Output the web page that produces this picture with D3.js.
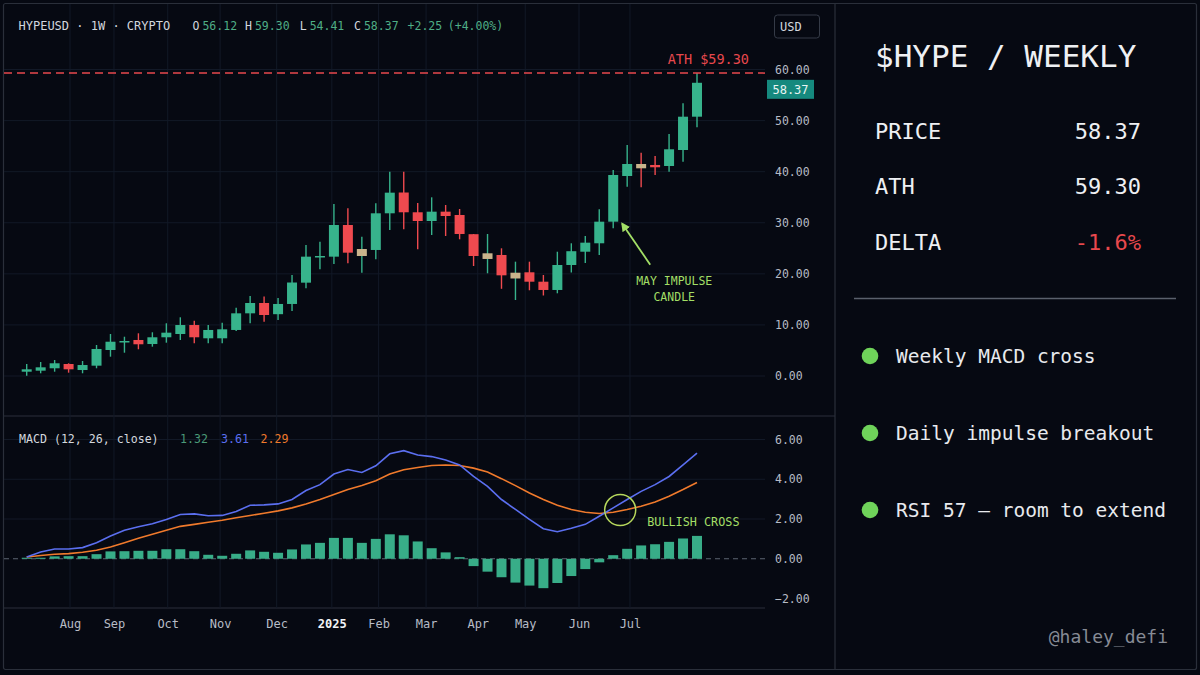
<!DOCTYPE html>
<html>
<head>
<meta charset="utf-8">
<script src="https://cdn.jsdelivr.net/npm/d3@7"></script>
<style>
    html, body { margin: 0; padding: 0; background: #060912; }
    svg { display: block; }
    text { font-family: "DejaVu Sans Mono", "Liberation Mono", monospace; }
</style>
</head>
<body>
<div id="chart"></div>
<script>

// Weekly candles HYPEUSD (one entry per week)
const opens  = [0.84, 1.04, 1.51, 2.35, 1.17, 2.02, 5.09, 6.60, 7.05, 6.26, 7.58, 8.22, 9.98, 7.38, 7.38, 9.01, 12.27, 14.29, 12.10, 14.10, 18.27, 23.24, 23.36, 29.56, 23.49, 24.67, 31.85, 35.92, 32.05, 30.34, 32.17, 31.52, 27.76, 22.91, 23.69, 19.09, 20.30, 18.46, 16.84, 21.73, 24.33, 25.98, 30.21, 39.15, 41.50, 41.31, 41.11, 44.24, 50.76];
const highs  = [2.35, 2.74, 3.13, 2.49, 2.94, 6.07, 8.22, 7.69, 8.36, 8.56, 10.32, 11.49, 10.83, 9.98, 10.43, 13.37, 15.66, 15.56, 15.27, 19.77, 25.65, 26.29, 33.67, 32.83, 27.27, 33.81, 40.00, 40.00, 33.87, 34.98, 33.48, 32.69, 27.80, 27.80, 25.00, 22.38, 22.38, 19.77, 24.33, 25.98, 27.41, 32.64, 40.33, 45.22, 43.72, 43.07, 47.38, 53.39, 59.30];
const lows   = [0.06, 0.53, 0.84, 0.65, 0.53, 1.51, 3.78, 4.56, 5.23, 5.74, 6.52, 7.05, 6.40, 6.40, 6.40, 8.80, 10.32, 10.63, 10.96, 12.73, 17.17, 20.89, 21.93, 22.06, 20.22, 22.85, 28.58, 28.72, 24.80, 27.60, 27.41, 26.76, 21.53, 20.11, 17.07, 14.88, 16.78, 15.76, 16.19, 20.26, 22.12, 23.69, 28.92, 37.06, 36.94, 39.35, 40.00, 41.95, 48.69];
const closes = [1.31, 1.70, 2.49, 1.31, 2.15, 5.29, 6.71, 6.85, 6.21, 7.58, 8.48, 9.98, 7.58, 9.01, 9.14, 12.27, 14.29, 11.94, 14.10, 18.30, 23.36, 23.49, 29.56, 24.14, 24.86, 31.85, 35.89, 32.05, 30.34, 32.17, 31.32, 27.80, 23.49, 24.02, 19.71, 20.22, 18.46, 16.84, 21.73, 24.43, 26.10, 30.21, 39.35, 41.50, 40.66, 40.86, 44.38, 50.76, 57.40];
// weeks drawn in the neutral (sand) colour
const neutralWeeks = [24, 33, 35, 44];

// MACD pane
const macdLine   = [0.09, 0.34, 0.49, 0.49, 0.56, 0.81, 1.14, 1.43, 1.61, 1.76, 1.98, 2.23, 2.26, 2.16, 2.18, 2.38, 2.69, 2.71, 2.76, 2.98, 3.43, 3.73, 4.26, 4.49, 4.34, 4.68, 5.28, 5.44, 5.22, 5.14, 4.97, 4.72, 4.14, 3.64, 2.98, 2.48, 1.98, 1.51, 1.36, 1.53, 1.73, 2.14, 2.56, 2.98, 3.39, 3.73, 4.14, 4.72, 5.31];
const signalLine = [0.09, 0.16, 0.23, 0.26, 0.33, 0.43, 0.59, 0.81, 1.03, 1.23, 1.43, 1.63, 1.73, 1.84, 1.94, 2.06, 2.18, 2.29, 2.41, 2.56, 2.76, 2.98, 3.23, 3.48, 3.68, 3.93, 4.26, 4.48, 4.59, 4.69, 4.72, 4.69, 4.56, 4.36, 4.03, 3.68, 3.31, 2.98, 2.69, 2.48, 2.34, 2.28, 2.34, 2.48, 2.64, 2.86, 3.14, 3.48, 3.84];
const histogram  = [0.05, 0.05, 0.12, 0.13, 0.13, 0.23, 0.37, 0.38, 0.40, 0.40, 0.48, 0.48, 0.38, 0.20, 0.15, 0.25, 0.42, 0.35, 0.30, 0.47, 0.72, 0.80, 1.05, 1.05, 0.80, 1.00, 1.23, 1.18, 0.87, 0.53, 0.32, 0.08, -0.37, -0.65, -0.93, -1.20, -1.35, -1.48, -1.22, -0.87, -0.52, -0.18, 0.18, 0.50, 0.67, 0.73, 0.85, 1.02, 1.15];

// axes
const priceTicks  = [0, 10, 20, 30, 40, 50, 60];
const macdTicks   = [-2, 0, 2, 4, 6];
const monthLabels = ["Aug", "Sep", "Oct", "Nov", "Dec", "2025", "Feb", "Mar", "Apr", "May", "Jun", "Jul"];
const monthAt     = [3.1, 6.25, 10.1, 13.85, 17.9, 21.85, 25.2, 28.6, 32.3, 35.7, 39.55, 43.2]; // in weeks

// annotations
const athValue   = 59.30;
const lastPrice  = 58.37;
const impulseWeek = 42;
const crossWeek = 42.5, crossValue = 2.45;

const headerStats = [
    {label: "O", value: "56.12"}, {label: "H", value: "59.30"},
    {label: "L", value: "54.41"}, {label: "C", value: "58.37"}
];
const sideStats = [
    {label: "PRICE", value: "58.37"}, {label: "ATH", value: "59.30"}, {label: "DELTA", value: "-1.6%"}
];
const notes = ["Weekly MACD cross", "Daily impulse breakout", "RSI 57 \u2014 room to extend"];


class WeeklyChart {

    constructor(parentElement) {
        this.parentElement = parentElement;
        this.candles = opens.map((o, i) => ({i: i, o: o, h: highs[i], l: lows[i], c: closes[i]}));
        this.initVis();
    }

    initVis() {
        let vis = this;

        vis.width = 1200;
        vis.height = 675;

        vis.colors = {
            bg: "#060912", border: "#2a2f3a", grid: "#121927",
            up: "#37b38c", down: "#ef4a4f", neutral: "#c9b48c",
            text: "#d3d7de", axis: "#b7bcc6", value: "#4fae86",
            blue: "#5b6ff0", orange: "#f07a2c", hist: "#38ad88",
            red: "#e8484d", lime: "#a3df66", dot: "#6fd35a"
        };

        vis.svg = d3.select("#" + vis.parentElement).append("svg")
            .attr("width", vis.width)
            .attr("height", vis.height);

        vis.svg.append("rect")
            .attr("width", vis.width)
            .attr("height", vis.height)
            .attr("fill", vis.colors.bg);

        // plot area edges
        vis.left = 4;
        vis.right = 765;
        vis.paneSplit = 416;
        vis.paneBottom = 608;

        // Scales
        vis.x = d3.scaleLinear().domain([0, opens.length - 1]).range([26.7, 697]);
        vis.y = d3.scaleLinear().domain([0, 60]).range([376, 69.5]);
        vis.yMacd = d3.scaleLinear().domain([-2, 6]).range([598.5, 439.5]);

        vis.drawFrame();
        vis.drawGrid();
        vis.updateVis();
        vis.drawSidePanel();
    }

    drawFrame() {
        let vis = this;

        vis.svg.append("rect")
            .attr("x", 3.5).attr("y", 3.5)
            .attr("width", 1193).attr("height", 666)
            .attr("rx", 2)
            .attr("fill", "none")
            .attr("stroke", vis.colors.border)
            .attr("stroke-width", 1.2);

        vis.svg.append("line")
            .attr("x1", 835).attr("x2", 835)
            .attr("y1", 3.5).attr("y2", 669.5)
            .attr("stroke", vis.colors.border)
            .attr("stroke-width", 1.2);

        vis.svg.append("line")
            .attr("x1", 3.5).attr("x2", 835)
            .attr("y1", vis.paneSplit).attr("y2", vis.paneSplit)
            .attr("stroke", vis.colors.border)
            .attr("stroke-width", 1.2);

        vis.svg.append("line")
            .attr("x1", 3.5).attr("x2", vis.right)
            .attr("y1", vis.paneBottom).attr("y2", vis.paneBottom)
            .attr("stroke", vis.colors.border)
            .attr("stroke-width", 1.2);
    }

    drawGrid() {
        let vis = this;

        // vertical month lines across both panes
        vis.svg.append("g").selectAll("line")
            .data(monthAt)
            .join("line")
            .attr("x1", d => vis.x(d)).attr("x2", d => vis.x(d))
            .attr("y1", 4).attr("y2", vis.paneBottom)
            .attr("stroke", vis.colors.grid);

        vis.svg.append("g").selectAll("line")
            .data(priceTicks)
            .join("line")
            .attr("x1", vis.left).attr("x2", vis.right)
            .attr("y1", d => vis.y(d)).attr("y2", d => vis.y(d))
            .attr("stroke", vis.colors.grid);

        // only the positive levels get a grid line in the MACD pane
        vis.svg.append("g").selectAll("line")
            .data(macdTicks.filter(d => d > 0))
            .join("line")
            .attr("x1", vis.left).attr("x2", vis.right)
            .attr("y1", d => vis.yMacd(d)).attr("y2", d => vis.yMacd(d))
            .attr("stroke", vis.colors.grid);
    }

    updateVis() {
        let vis = this;
        let c = vis.colors;

        let candleColor = d => neutralWeeks.includes(d.i) ? c.neutral : (d.c >= d.o ? c.up : c.down);
        let wickColor = d => d.c >= d.o ? c.up : c.down;

        // ---- price pane ----
        let candle = vis.svg.append("g").attr("class", "candles")
            .selectAll("g")
            .data(vis.candles)
            .join("g");

        candle.append("line")
            .attr("x1", d => vis.x(d.i)).attr("x2", d => vis.x(d.i))
            .attr("y1", d => vis.y(d.h)).attr("y2", d => vis.y(d.l))
            .attr("stroke", wickColor)
            .attr("stroke-width", 1.4);

        candle.append("rect")
            .attr("x", d => vis.x(d.i) - 5)
            .attr("width", 10)
            .attr("y", d => vis.y(Math.max(d.o, d.c)))
            .attr("height", d => Math.max(1.5, Math.abs(vis.y(d.o) - vis.y(d.c))))
            .attr("fill", candleColor);

        // ATH line + label
        vis.svg.append("line")
            .attr("x1", vis.left).attr("x2", vis.right)
            .attr("y1", vis.y(athValue)).attr("y2", vis.y(athValue))
            .attr("stroke", c.red)
            .attr("stroke-width", 1.5)
            .attr("stroke-dasharray", "8,5");

        vis.svg.append("text")
            .attr("x", 749)
            .attr("y", vis.y(athValue) - 9)
            .attr("text-anchor", "end")
            .attr("font-size", 13.5)
            .attr("fill", c.red)
            .text("ATH $" + athValue.toFixed(2));

        // price axis
        let yAxis = d3.axisRight(vis.y)
            .tickValues(priceTicks)
            .tickFormat(d3.format(".2f"))
            .tickSize(0)
            .tickPadding(0);

        vis.svg.append("g")
            .attr("class", "y-axis")
            .attr("transform", "translate(775,0)")
            .call(yAxis)
            .call(g => g.select(".domain").remove())
            .selectAll("text")
            .attr("fill", c.axis)
            .attr("font-size", 11.5)
            .attr("font-family", "DejaVu Sans Mono");

        // last price tag
        let tag = vis.svg.append("g")
            .attr("transform", "translate(767," + (vis.y(lastPrice) + 2) + ")");
        tag.append("rect")
            .attr("width", 47).attr("height", 19)
            .attr("fill", "#15897e");
        tag.append("text")
            .attr("x", 23.5).attr("y", 14)
            .attr("text-anchor", "middle")
            .attr("font-size", 12)
            .attr("fill", "#eaf5f3")
            .text(lastPrice.toFixed(2));

        // USD box
        vis.svg.append("rect")
            .attr("x", 774.5).attr("y", 15)
            .attr("width", 45).attr("height", 23)
            .attr("rx", 3)
            .attr("fill", "none")
            .attr("stroke", "#353b47");
        vis.svg.append("text")
            .attr("x", 780).attr("y", 31)
            .attr("font-size", 12)
            .attr("fill", c.text)
            .text("USD");

        // header line
        vis.svg.append("text")
            .attr("x", 18.5).attr("y", 30)
            .attr("font-size", 12)
            .attr("fill", c.text)
            .text("HYPEUSD \u00b7 1W \u00b7 CRYPTO");

        let statX = [192.5, 245, 299.7, 354];
        headerStats.forEach((s, i) => {
            let t = vis.svg.append("text")
                .attr("x", statX[i]).attr("y", 30)
                .attr("font-size", 11.5);
            t.append("tspan").attr("fill", c.text).text(s.label);
            t.append("tspan").attr("dx", 3).attr("fill", c.value).text(s.value);
        });
        vis.svg.append("text")
            .attr("x", 407.6).attr("y", 30)
            .attr("font-size", 11.5)
            .attr("fill", c.value)
            .text("+2.25");
        vis.svg.append("text")
            .attr("x", 447.8).attr("y", 30)
            .attr("font-size", 11.5)
            .attr("fill", c.value)
            .text("(+4.00%)");

        // May impulse annotation, anchored on the impulse candle
        vis.svg.append("defs").append("marker")
            .attr("id", "arrowHead")
            .attr("viewBox", "0 0 10 10")
            .attr("refX", 8).attr("refY", 5)
            .attr("markerWidth", 5).attr("markerHeight", 5)
            .attr("orient", "auto")
            .append("path")
            .attr("d", "M0,0 L10,5 L0,10 z")
            .attr("fill", c.lime);

        let tipX = vis.x(impulseWeek) + 9;
        let tipY = vis.y(opens[impulseWeek]) + 2;
        vis.svg.append("line")
            .attr("x1", tipX + 28).attr("y1", tipY + 41)
            .attr("x2", tipX).attr("y2", tipY)
            .attr("stroke", c.lime)
            .attr("stroke-width", 1.8)
            .attr("marker-end", "url(#arrowHead)");

        let note = vis.svg.append("text")
            .attr("text-anchor", "middle")
            .attr("font-size", 11.5)
            .attr("fill", c.lime);
        note.append("tspan").attr("x", tipX + 52).attr("y", tipY + 61).text("MAY IMPULSE");
        note.append("tspan").attr("x", tipX + 52).attr("y", tipY + 77).text("CANDLE");

        // ---- MACD pane ----
        vis.svg.append("line")
            .attr("x1", vis.left).attr("x2", vis.right)
            .attr("y1", vis.yMacd(0)).attr("y2", vis.yMacd(0))
            .attr("stroke", "#5d6472")
            .attr("stroke-dasharray", "5,4");

        vis.svg.append("g").selectAll("rect")
            .data(histogram)
            .join("rect")
            .attr("x", (d, i) => vis.x(i) - 5)
            .attr("width", 10)
            .attr("y", d => vis.yMacd(Math.max(0, d)))
            .attr("height", d => Math.abs(vis.yMacd(d) - vis.yMacd(0)))
            .attr("fill", c.hist);

        let line = d3.line()
            .x((d, i) => vis.x(i))
            .y(d => vis.yMacd(d));

        vis.svg.append("path")
            .datum(signalLine)
            .attr("d", line)
            .attr("fill", "none")
            .attr("stroke", c.orange)
            .attr("stroke-width", 1.6);

        vis.svg.append("path")
            .datum(macdLine)
            .attr("d", line)
            .attr("fill", "none")
            .attr("stroke", c.blue)
            .attr("stroke-width", 1.6);

        // bullish cross marker
        vis.svg.append("circle")
            .attr("cx", vis.x(crossWeek))
            .attr("cy", vis.yMacd(crossValue))
            .attr("r", 15.5)
            .attr("fill", "none")
            .attr("stroke", "#b6d75c")
            .attr("stroke-width", 1.5);

        vis.svg.append("text")
            .attr("x", vis.x(crossWeek) + 27)
            .attr("y", vis.yMacd(crossValue) + 16)
            .attr("font-size", 11.8)
            .attr("fill", c.lime)
            .text("BULLISH CROSS");

        // MACD legend
        let legend = vis.svg.append("g").attr("font-size", 11.6);
        legend.append("text").attr("x", 19).attr("y", 443).attr("fill", c.text).text("MACD (12, 26, close)");
        legend.append("text").attr("x", 180).attr("y", 443).attr("fill", "#4a9a78").text("1.32");
        legend.append("text").attr("x", 221).attr("y", 443).attr("fill", c.blue).text("3.61");
        legend.append("text").attr("x", 260.5).attr("y", 443).attr("fill", c.orange).text("2.29");

        let macdAxis = d3.axisRight(vis.yMacd)
            .tickValues(macdTicks)
            .tickFormat(d3.format(".2f"))
            .tickSize(0)
            .tickPadding(0);

        vis.svg.append("g")
            .attr("class", "macd-axis")
            .attr("transform", "translate(775,0)")
            .call(macdAxis)
            .call(g => g.select(".domain").remove())
            .selectAll("text")
            .attr("fill", c.axis)
            .attr("font-size", 11.5)
            .attr("font-family", "DejaVu Sans Mono");

        // month axis
        let xAxis = d3.axisBottom(vis.x)
            .tickValues(monthAt)
            .tickFormat((d, i) => monthLabels[i])
            .tickSize(0)
            .tickPadding(0);

        vis.svg.append("g")
            .attr("class", "x-axis")
            .attr("transform", "translate(0,619.5)")
            .call(xAxis)
            .call(g => g.select(".domain").remove())
            .selectAll("text")
            .attr("fill", d => d === monthAt[5] ? "#f2f4f7" : c.axis)
            .attr("font-weight", d => d === monthAt[5] ? "bold" : "normal")
            .attr("font-size", 12)
            .attr("font-family", "DejaVu Sans Mono");
    }

    drawSidePanel() {
        let vis = this;
        let c = vis.colors;

        let panel = vis.svg.append("g").attr("class", "side");

        panel.append("text")
            .attr("x", 875).attr("y", 66.5)
            .attr("font-size", 31)
            .attr("fill", "#eef0f3")
            .text("$HYPE / WEEKLY");

        let rowY = d3.scalePoint().domain(sideStats.map(d => d.label)).range([138.5, 250]);

        panel.selectAll(".stat-label")
            .data(sideStats)
            .join("text")
            .attr("class", "stat-label")
            .attr("x", 875)
            .attr("y", d => rowY(d.label))
            .attr("font-size", 22)
            .attr("fill", "#eef0f3")
            .text(d => d.label);

        panel.selectAll(".stat-value")
            .data(sideStats)
            .join("text")
            .attr("class", "stat-value")
            .attr("x", 1141)
            .attr("y", d => rowY(d.label))
            .attr("text-anchor", "end")
            .attr("font-size", 22)
            .attr("fill", d => d.value.startsWith("-") ? c.red : "#eef0f3")
            .text(d => d.value);

        panel.append("line")
            .attr("x1", 854).attr("x2", 1176)
            .attr("y1", 298.5).attr("y2", 298.5)
            .attr("stroke", "#5a606c")
            .attr("stroke-width", 1.5);

        let noteY = d3.scalePoint().domain(notes).range([356, 510]);

        panel.selectAll(".dot")
            .data(notes)
            .join("circle")
            .attr("class", "dot")
            .attr("cx", 870)
            .attr("cy", d => noteY(d))
            .attr("r", 8.3)
            .attr("fill", c.dot);

        panel.selectAll(".note")
            .data(notes)
            .join("text")
            .attr("class", "note")
            .attr("x", 896)
            .attr("y", d => noteY(d) + 7)
            .attr("font-size", 19.5)
            .attr("fill", "#e8eaee")
            .text(d => d);

        panel.append("text")
            .attr("x", 1168).attr("y", 642.5)
            .attr("text-anchor", "end")
            .attr("font-size", 18)
            .attr("fill", "#868b95")
            .text("@haley_defi");
    }
}

new WeeklyChart("chart");

</script>
</body>
</html>
